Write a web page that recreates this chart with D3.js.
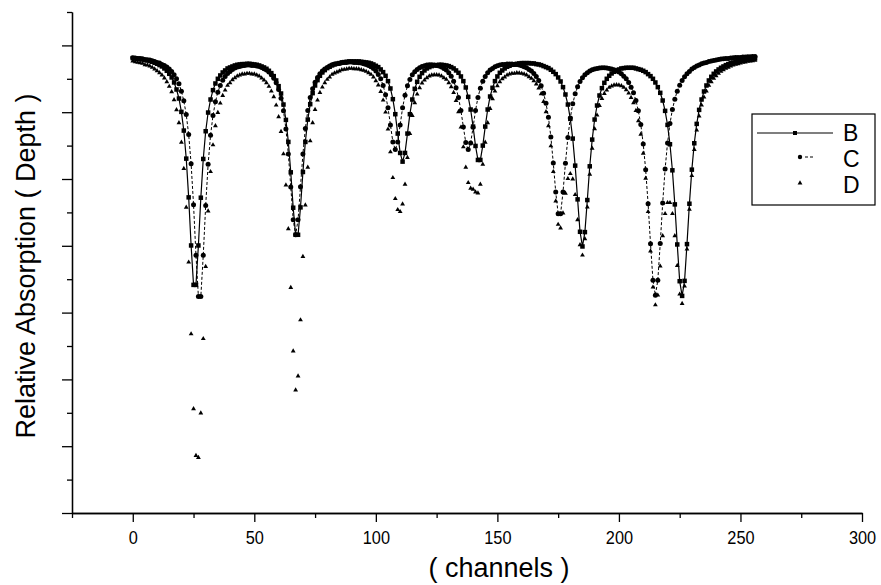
<!DOCTYPE html>
<html>
<head>
<meta charset="utf-8">
<script src="https://cdn.jsdelivr.net/npm/d3@7"></script>
<style>
  body { margin: 0; background: #fff; }
  svg { display: block; }
  text { font-family: "Liberation Sans", Arial, sans-serif; fill: #000; }
</style>
</head>
<body>
<div id="chart"></div>
<script>
// Channel number of the first value in each series
const firstChannel = 0;

// Series B (solid line, small squares), one value per channel
const seriesB = [
  13.62, 13.61, 13.60, 13.59, 13.58, 13.56, 13.55, 13.53, 13.51, 13.48,
  13.45, 13.41, 13.37, 13.31, 13.24, 13.15, 13.04, 12.89, 12.68, 12.41,
  12.01, 11.45, 10.61, 9.45, 8.01, 6.83, 6.83, 8.01, 9.44, 10.60,
  11.43, 11.99, 12.38, 12.66, 12.86, 13.00, 13.10, 13.19, 13.25, 13.31,
  13.34, 13.37, 13.40, 13.42, 13.43, 13.44, 13.44, 13.45, 13.45, 13.44,
  13.43, 13.42, 13.40, 13.37, 13.34, 13.30, 13.24, 13.17, 13.08, 12.95,
  12.78, 12.56, 12.23, 11.77, 11.11, 10.20, 9.14, 8.33, 8.33, 9.15,
  10.21, 11.11, 11.78, 12.24, 12.57, 12.80, 12.96, 13.09, 13.19, 13.26,
  13.32, 13.36, 13.40, 13.43, 13.45, 13.47, 13.49, 13.50, 13.51, 13.52,
  13.52, 13.52, 13.52, 13.52, 13.51, 13.50, 13.49, 13.48, 13.46, 13.43,
  13.39, 13.35, 13.28, 13.20, 13.09, 12.93, 12.71, 12.39, 11.94, 11.36,
  10.78, 10.52, 10.78, 11.36, 11.94, 12.38, 12.70, 12.91, 13.06, 13.17,
  13.25, 13.31, 13.35, 13.38, 13.40, 13.41, 13.42, 13.42, 13.41, 13.40,
  13.38, 13.35, 13.31, 13.25, 13.18, 13.07, 12.93, 12.74, 12.46, 12.08,
  11.57, 10.99, 10.57, 10.57, 11.00, 11.57, 12.08, 12.47, 12.73, 12.93,
  13.07, 13.18, 13.25, 13.31, 13.36, 13.39, 13.42, 13.43, 13.45, 13.46,
  13.47, 13.47, 13.47, 13.47, 13.46, 13.46, 13.44, 13.43, 13.41, 13.38,
  13.35, 13.32, 13.27, 13.21, 13.14, 13.04, 12.92, 12.75, 12.53, 12.23,
  11.80, 11.21, 10.40, 9.39, 8.42, 7.98, 8.41, 9.37, 10.38, 11.18,
  11.78, 12.20, 12.50, 12.72, 12.88, 13.00, 13.09, 13.16, 13.21, 13.25,
  13.28, 13.31, 13.32, 13.33, 13.33, 13.33, 13.33, 13.31, 13.29, 13.27,
  13.24, 13.20, 13.14, 13.08, 13.00, 12.89, 12.75, 12.58, 12.35, 12.04,
  11.62, 11.04, 10.26, 9.24, 8.04, 6.94, 6.50, 6.95, 8.05, 9.26,
  10.28, 11.07, 11.65, 12.07, 12.38, 12.62, 12.80, 12.95, 13.06, 13.15,
  13.22, 13.28, 13.33, 13.37, 13.41, 13.44, 13.47, 13.49, 13.51, 13.53,
  13.55, 13.56, 13.57, 13.58, 13.59, 13.60, 13.61
];

// Series C (dashed line, dots)
const seriesC = [
  13.63, 13.62, 13.61, 13.61, 13.60, 13.58, 13.57, 13.56, 13.54, 13.52,
  13.49, 13.47, 13.43, 13.40, 13.35, 13.29, 13.22, 13.12, 13.00, 12.85,
  12.63, 12.34, 11.93, 11.33, 10.46, 9.23, 7.72, 6.48, 6.48, 7.72,
  9.21, 10.44, 11.31, 11.90, 12.31, 12.60, 12.80, 12.96, 13.07, 13.16,
  13.22, 13.28, 13.32, 13.35, 13.37, 13.39, 13.40, 13.41, 13.41, 13.40,
  13.40, 13.38, 13.37, 13.34, 13.30, 13.26, 13.20, 13.12, 13.02, 12.88,
  12.68, 12.42, 12.04, 11.50, 10.75, 9.76, 8.78, 8.33, 8.78, 9.77,
  10.75, 11.51, 12.05, 12.44, 12.70, 12.90, 13.04, 13.15, 13.23, 13.29,
  13.34, 13.38, 13.42, 13.44, 13.45, 13.46, 13.48, 13.49, 13.49, 13.50,
  13.50, 13.49, 13.49, 13.48, 13.47, 13.45, 13.43, 13.40, 13.36, 13.31,
  13.23, 13.13, 13.00, 12.80, 12.52, 12.13, 11.62, 11.11, 10.88, 11.11,
  11.62, 12.13, 12.51, 12.79, 12.98, 13.12, 13.21, 13.28, 13.33, 13.37,
  13.39, 13.41, 13.42, 13.42, 13.41, 13.40, 13.38, 13.35, 13.31, 13.26,
  13.18, 13.08, 12.93, 12.73, 12.44, 12.05, 11.56, 11.09, 10.88, 11.08,
  11.55, 12.05, 12.44, 12.72, 12.93, 13.07, 13.18, 13.26, 13.31, 13.36,
  13.39, 13.41, 13.43, 13.43, 13.44, 13.44, 13.44, 13.43, 13.43, 13.41,
  13.39, 13.36, 13.33, 13.28, 13.23, 13.16, 13.07, 12.95, 12.79, 12.57,
  12.27, 11.85, 11.26, 10.48, 9.61, 8.96, 8.96, 9.61, 10.47, 11.24,
  11.83, 12.25, 12.55, 12.76, 12.92, 13.03, 13.12, 13.18, 13.23, 13.27,
  13.29, 13.31, 13.32, 13.33, 13.33, 13.32, 13.31, 13.29, 13.27, 13.24,
  13.20, 13.15, 13.08, 13.00, 12.89, 12.75, 12.58, 12.35, 12.04, 11.63,
  11.05, 10.28, 9.26, 8.06, 6.97, 6.52, 6.97, 8.07, 9.28, 10.30,
  11.08, 11.66, 12.08, 12.39, 12.63, 12.81, 12.95, 13.06, 13.15, 13.22,
  13.29, 13.34, 13.38, 13.41, 13.45, 13.47, 13.49, 13.52, 13.53, 13.55,
  13.56, 13.58, 13.59, 13.60, 13.61, 13.61, 13.62, 13.63, 13.64, 13.64,
  13.64, 13.65, 13.65, 13.66, 13.66, 13.67, 13.67
];

// Series D (triangles only)
const seriesD = [
  13.53, 13.51, 13.49, 13.48, 13.46, 13.42, 13.41, 13.38, 13.34, 13.29,
  13.24, 13.18, 13.11, 13.02, 12.91, 12.77, 12.61, 12.37, 12.07, 11.68,
  11.10, 10.31, 9.15, 7.51, 5.36, 3.12, 1.72, 1.66, 2.99, 5.22,
  7.38, 9.04, 10.22, 11.02, 11.59, 11.99, 12.27, 12.50, 12.66, 12.80,
  12.88, 12.97, 13.03, 13.08, 13.11, 13.14, 13.14, 13.16, 13.16, 13.14,
  13.14, 13.11, 13.08, 13.02, 12.96, 12.88, 12.77, 12.63, 12.46, 12.21,
  11.86, 11.42, 10.75, 9.82, 8.51, 6.75, 4.85, 3.68, 4.10, 5.78,
  7.68, 9.22, 10.35, 11.14, 11.68, 12.08, 12.36, 12.59, 12.75, 12.88,
  12.98, 13.05, 13.13, 13.17, 13.20, 13.23, 13.27, 13.28, 13.29, 13.31,
  13.31, 13.30, 13.30, 13.29, 13.27, 13.25, 13.22, 13.18, 13.13, 13.05,
  12.94, 12.81, 12.62, 12.36, 12.00, 11.49, 10.81, 10.04, 9.41, 9.08,
  9.02, 9.25, 9.84, 10.64, 11.36, 11.90, 12.28, 12.54, 12.73, 12.87,
  12.96, 13.03, 13.08, 13.11, 13.12, 13.12, 13.11, 13.08, 13.03, 12.98,
  12.88, 12.76, 12.59, 12.35, 12.01, 11.55, 10.96, 10.35, 9.89, 9.72,
  9.69, 9.61, 9.58, 9.84, 10.44, 11.10, 11.68, 12.11, 12.40, 12.63,
  12.79, 12.91, 13.00, 13.05, 13.11, 13.14, 13.16, 13.16, 13.18, 13.17,
  13.16, 13.14, 13.11, 13.06, 13.01, 12.94, 12.84, 12.72, 12.55, 12.32,
  12.01, 11.59, 10.99, 10.22, 9.34, 8.64, 8.53, 8.98, 9.57, 10.01,
  10.16, 10.00, 9.53, 8.78, 8.03, 7.72, 8.21, 9.16, 10.14, 10.92,
  11.50, 11.91, 12.20, 12.41, 12.56, 12.66, 12.74, 12.78, 12.81, 12.82,
  12.81, 12.79, 12.74, 12.67, 12.57, 12.44, 12.28, 12.05, 11.74, 11.34,
  10.77, 10.02, 9.02, 7.84, 6.76, 6.23, 6.52, 7.39, 8.30, 8.96,
  9.29, 9.29, 8.96, 8.30, 7.41, 6.55, 6.27, 6.79, 7.90, 9.09,
  10.10, 10.88, 11.46, 11.88, 12.21, 12.45, 12.63, 12.80, 12.91, 13.01,
  13.09, 13.16, 13.22, 13.27, 13.31, 13.34, 13.38, 13.41, 13.43, 13.45,
  13.47, 13.49, 13.50, 13.52, 13.53, 13.54, 13.55
];

// Axis ticks
const xMajorTicks = [0, 50, 100, 150, 200, 250, 300];
const xMinorTicks = [-25, 25, 75, 125, 175, 225, 275];
const yMajorTicks = [0, 2, 4, 6, 8, 10, 12, 14];
const yMinorTicks = [1, 3, 5, 7, 9, 11, 13, 15];

const legendLabels = ['B', 'C', 'D'];

// Turn a value list into {channel, value} points
function toPoints(values) {
  return values.map((v, i) => ({ channel: firstChannel + i, value: v }));
}

function drawChart() {
  const width = 881;
  const height = 585;
  const plot = { left: 72, right: 862, top: 12, bottom: 513 };

  const svg = d3.select('#chart')
    .append('svg')
    .attr('width', width)
    .attr('height', height);

  const xScale = d3.scaleLinear().domain([-25, 300]).range([plot.left, plot.right]);
  const yScale = d3.scaleLinear().domain([0, 15]).range([plot.bottom, plot.top]);

  // Bottom axis: labelled majors, short minors
  svg.append('g')
    .attr('transform', `translate(0, ${plot.bottom})`)
    .call(d3.axisBottom(xScale).tickValues(xMinorTicks).tickSize(5).tickSizeOuter(0).tickFormat(''));

  const xAxis = svg.append('g')
    .attr('transform', `translate(0, ${plot.bottom})`)
    .call(d3.axisBottom(xScale).tickValues(xMajorTicks).tickSize(9).tickSizeOuter(0).tickPadding(9));
  xAxis.selectAll('text')
    .style('font-family', '"Liberation Sans", Arial, sans-serif')
    .style('font-size', '19px')
    .attr('transform', 'scale(0.86,1)');

  // Left axis: no labels
  svg.append('g')
    .attr('transform', `translate(${plot.left}, 0)`)
    .call(d3.axisLeft(yScale).tickValues(yMinorTicks).tickSize(5).tickSizeOuter(0).tickFormat(''));
  svg.append('g')
    .attr('transform', `translate(${plot.left}, 0)`)
    .call(d3.axisLeft(yScale).tickValues(yMajorTicks).tickSize(10).tickSizeOuter(0).tickFormat(''));

  svg.selectAll('.domain, .tick line')
    .attr('stroke', '#000')
    .attr('stroke-width', 1.3);

  // Axis titles
  svg.append('text')
    .attr('x', 499)
    .attr('y', 577)
    .attr('text-anchor', 'middle')
    .style('font-size', '27px')
    .text('( channels )');

  svg.append('text')
    .attr('transform', 'translate(35, 266) rotate(-90)')
    .attr('text-anchor', 'middle')
    .style('font-size', '27px')
    .text('Relative Absorption ( Depth )');

  const line = d3.line()
    .x(d => xScale(d.channel))
    .y(d => yScale(d.value));

  const pointsB = toPoints(seriesB);
  const pointsC = toPoints(seriesC);
  const pointsD = toPoints(seriesD);

  const triangle = d3.symbol().type(d3.symbolTriangle).size(10);

  // D: triangles only
  svg.append('g')
    .selectAll('path')
    .data(pointsD)
    .enter()
    .append('path')
    .attr('d', triangle)
    .attr('transform', d => `translate(${xScale(d.channel)}, ${yScale(d.value)})`)
    .attr('fill', '#000');

  // C: dashed line with dots
  svg.append('path')
    .datum(pointsC)
    .attr('d', line)
    .attr('fill', 'none')
    .attr('stroke', '#000')
    .attr('stroke-width', 1)
    .attr('stroke-dasharray', '3,2');

  svg.append('g')
    .selectAll('circle')
    .data(pointsC)
    .enter()
    .append('circle')
    .attr('cx', d => xScale(d.channel))
    .attr('cy', d => yScale(d.value))
    .attr('r', 2.5)
    .attr('fill', '#000');

  // B: solid line with small squares
  svg.append('path')
    .datum(pointsB)
    .attr('d', line)
    .attr('fill', 'none')
    .attr('stroke', '#000')
    .attr('stroke-width', 1.2);

  svg.append('g')
    .selectAll('rect')
    .data(pointsB)
    .enter()
    .append('rect')
    .attr('x', d => xScale(d.channel) - 2.25)
    .attr('y', d => yScale(d.value) - 2.25)
    .attr('width', 4.5)
    .attr('height', 4.5)
    .attr('fill', '#000');

  drawLegend(svg);
}

// Legend box at the right
function drawLegend(svg) {
  const box = { x: 752, y: 114, w: 123, h: 91 };
  const rowY = [133, 157, 183];
  const labelY = [141, 167, 193];

  const g = svg.append('g').attr('class', 'legend');

  g.append('rect')
    .attr('x', box.x)
    .attr('y', box.y)
    .attr('width', box.w)
    .attr('height', box.h)
    .attr('fill', '#fff')
    .attr('stroke', '#000')
    .attr('stroke-width', 1.2);

  // B sample
  g.append('line')
    .attr('x1', 757).attr('x2', 833)
    .attr('y1', rowY[0]).attr('y2', rowY[0])
    .attr('stroke', '#000')
    .attr('stroke-width', 1.2);
  g.append('rect')
    .attr('x', 793).attr('y', rowY[0] - 2)
    .attr('width', 4).attr('height', 4)
    .attr('fill', '#000');

  // C sample
  g.append('circle')
    .attr('cx', 800).attr('cy', rowY[1])
    .attr('r', 2.2)
    .attr('fill', '#000');
  g.append('line')
    .attr('x1', 805).attr('x2', 814)
    .attr('y1', rowY[1]).attr('y2', rowY[1])
    .attr('stroke', '#000')
    .attr('stroke-dasharray', '3,2');

  // D sample
  g.append('path')
    .attr('d', d3.symbol().type(d3.symbolTriangle).size(10))
    .attr('transform', `translate(800, ${rowY[2]})`)
    .attr('fill', '#000');

  g.selectAll('text.label')
    .data(legendLabels)
    .enter()
    .append('text')
    .attr('class', 'label')
    .attr('x', 843)
    .attr('y', (d, i) => labelY[i])
    .style('font-size', '23px')
    .text(d => d);
}

drawChart();
</script>
</body>
</html>
